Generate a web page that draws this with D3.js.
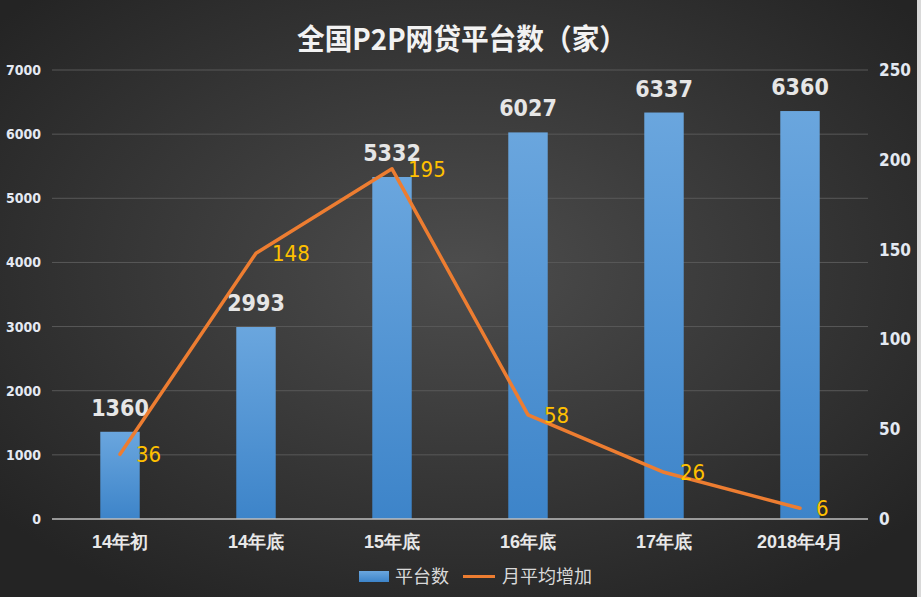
<!DOCTYPE html>
<html>
<head>
<meta charset="utf-8">
<script src="https://cdn.jsdelivr.net/npm/d3@7"></script>
<style>
  body { margin: 0; background: #333; }
  svg { display: block; font-family: "Noto Sans CJK SC", "Noto Sans", sans-serif; }
</style>
</head>
<body>
<div id="chart"></div>
<script>
const width = 921;
const height = 597;

const categories = ["14年初", "14年底", "15年底", "16年底", "17年底", "2018年4月"];
const platformCounts = [1360, 2993, 5332, 6027, 6337, 6360];
const monthlyAdds = [36, 148, 195, 58, 26, 6];
const leftTicks = [0, 1000, 2000, 3000, 4000, 5000, 6000, 7000];
const rightTicks = [0, 50, 100, 150, 200, 250];

const plot = { left: 52, right: 868, top: 70, bottom: 519 };

const x = d3.scaleBand(categories, [plot.left, plot.right]).paddingInner(0.71).paddingOuter(0.355);
const yLeft = d3.scaleLinear([0, 7000], [plot.bottom, plot.top]);
const yRight = d3.scaleLinear([0, 250], [plot.bottom, plot.top]);
const cx = d => x(d) + x.bandwidth() / 2;
const narrow = "Liberation Sans Narrow, DejaVu Sans Condensed, sans-serif";

const svg = d3.select("#chart").append("svg")
  .attr("width", width)
  .attr("height", height);

const defs = svg.append("defs");
const bg = defs.append("radialGradient")
  .attr("id", "bg")
  .attr("cx", "50%").attr("cy", "45%").attr("r", "65%");
bg.append("stop").attr("offset", "0%").attr("stop-color", "#4d4d4d");
bg.append("stop").attr("offset", "100%").attr("stop-color", "#242424");

const barGrad = defs.append("linearGradient")
  .attr("id", "bar")
  .attr("x1", 0).attr("y1", 0).attr("x2", 0).attr("y2", 1);
barGrad.append("stop").attr("offset", "0%").attr("stop-color", "#6aa6de");
barGrad.append("stop").attr("offset", "100%").attr("stop-color", "#3d84c9");

svg.append("rect")
  .attr("width", width).attr("height", height)
  .attr("fill", "url(#bg)");

// sheet edge showing at the right
svg.append("rect")
  .attr("x", 917).attr("width", 4).attr("height", height)
  .attr("fill", "#d9d9d9");

svg.append("text")
  .attr("x", 462).attr("y", 50)
  .attr("text-anchor", "middle")
  .attr("fill", "#f2f2f2")
  .attr("font-size", 29)
  .attr("font-weight", "bold")
  .attr("textLength", 330)
  .attr("lengthAdjust", "spacingAndGlyphs")
  .text("全国P2P网贷平台数（家）");

// gridlines
svg.append("g")
  .selectAll("line")
  .data(leftTicks.slice(1))
  .join("line")
  .attr("x1", plot.left).attr("x2", plot.right)
  .attr("y1", d => yLeft(d)).attr("y2", d => yLeft(d))
  .attr("stroke", "#595959")
  .attr("stroke-width", 1);

// left axis
const leftAxis = svg.append("g")
  .attr("transform", `translate(41,0)`)
  .call(d3.axisLeft(yLeft).tickValues(leftTicks).tickFormat(d3.format("d")).tickSize(0).tickPadding(0));
leftAxis.select(".domain").remove();
leftAxis.selectAll("text")
  .attr("fill", "#e4e9f2")
  .attr("font-size", 14)
  .attr("font-weight", "bold")
  .attr("font-family", narrow);

// right axis
const rightAxis = svg.append("g")
  .attr("transform", `translate(879,0)`)
  .call(d3.axisRight(yRight).tickValues(rightTicks).tickSize(0).tickPadding(0));
rightAxis.select(".domain").remove();
rightAxis.selectAll("text")
  .attr("fill", "#e4e9f2")
  .attr("font-size", 17)
  .attr("font-weight", "bold")
  .attr("font-family", narrow);

// bars
svg.append("g")
  .selectAll("rect")
  .data(categories)
  .join("rect")
  .attr("x", d => x(d))
  .attr("width", x.bandwidth())
  .attr("y", (d, i) => yLeft(platformCounts[i]))
  .attr("height", (d, i) => yLeft(0) - yLeft(platformCounts[i]))
  .attr("fill", "url(#bar)");

// baseline
svg.append("line")
  .attr("x1", plot.left).attr("x2", plot.right)
  .attr("y1", plot.bottom).attr("y2", plot.bottom)
  .attr("stroke", "#bfbfbf")
  .attr("stroke-width", 1.5);

// x axis labels
const xAxis = svg.append("g")
  .attr("transform", `translate(0,${plot.bottom})`)
  .call(d3.axisBottom(x).tickSize(0).tickPadding(16));
xAxis.select(".domain").remove();
xAxis.selectAll("text")
  .attr("fill", "#e8e8e8")
  .attr("font-size", 18)
  .attr("font-weight", "bold");

// bar value labels
svg.append("g")
  .selectAll("text")
  .data(categories)
  .join("text")
  .attr("x", d => cx(d))
  .attr("y", (d, i) => yLeft(platformCounts[i]) - 16)
  .attr("text-anchor", "middle")
  .attr("fill", "#e6e6e6")
  .attr("font-size", 23)
  .attr("font-weight", "bold")
  .attr("font-family", narrow)
  .text((d, i) => platformCounts[i]);

// line
const line = d3.line()
  .x((v, i) => cx(categories[i]))
  .y(v => yRight(v));
svg.append("path")
  .attr("d", line(monthlyAdds))
  .attr("fill", "none")
  .attr("stroke", "#ed7d31")
  .attr("stroke-width", 3.5)
  .attr("stroke-linejoin", "round")
  .attr("stroke-linecap", "round");

// line value labels
svg.append("g")
  .selectAll("text")
  .data(categories)
  .join("text")
  .attr("x", d => cx(d) + 16)
  .attr("y", (d, i) => yRight(monthlyAdds[i]) + 8)
  .attr("fill", "#ffc000")
  .attr("font-size", 22)
  .attr("font-family", narrow)
  .text((d, i) => monthlyAdds[i]);

// legend
const legend = svg.append("g").attr("font-size", 18).attr("fill", "#d9d9d9");
legend.append("rect")
  .attr("x", 359).attr("y", 571).attr("width", 30).attr("height", 11)
  .attr("fill", "url(#bar)");
legend.append("text").attr("x", 395).attr("y", 583).text("平台数");
legend.append("line")
  .attr("x1", 463).attr("x2", 495).attr("y1", 576.5).attr("y2", 576.5)
  .attr("stroke", "#ed7d31").attr("stroke-width", 3);
legend.append("text").attr("x", 502).attr("y", 583).text("月平均增加");
</script>
</body>
</html>
